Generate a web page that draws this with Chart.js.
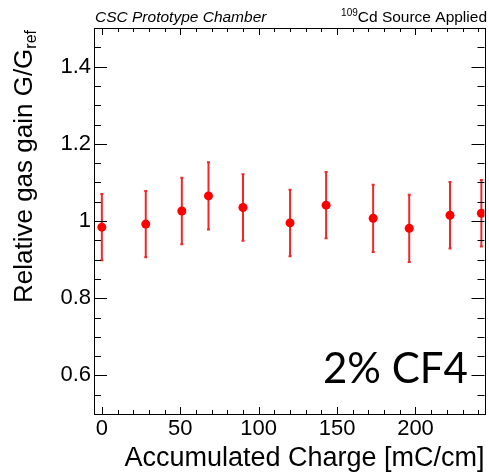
<!DOCTYPE html>
<html>
<head>
<meta charset="utf-8">
<script src="https://cdn.jsdelivr.net/npm/chart.js@4/dist/chart.umd.min.js"></script>
<style>
  html, body { margin: 0; padding: 0; background: #fff; }
  #wrap { width: 489px; height: 474px; position: relative; }
</style>
</head>
<body>
<div id="wrap"><canvas id="c"></canvas></div>
<script>
// ---- data ----
const charge = [0, 28, 51, 68, 90, 120, 143, 173, 196, 222, 242];
const gain   = [0.984, 0.992, 1.026, 1.065, 1.035, 0.995, 1.041, 1.007, 0.981, 1.015, 1.020];
const gainErr = [0.086, 0.086, 0.086, 0.087, 0.086, 0.086, 0.086, 0.087, 0.087, 0.086, 0.086];
const xTickLabels = [0, 50, 100, 150, 200];
const yTickLabels = [0.6, 0.8, 1.0, 1.2, 1.4];
const xMinorStep = 10;
const yMinorStep = 0.05;

const FONT = "'Liberation Sans', Arial, sans-serif";

const framePlugin = {
  id: 'frame',
  beforeDatasetsDraw(chart) {
    const ctx = chart.ctx;
    const xs = chart.scales.x, ys = chart.scales.y;
    ctx.save();
    ctx.strokeStyle = '#f02828';
    ctx.lineWidth = 2;
    for (let i = 0; i < charge.length; i++) {
      const px = xs.getPixelForValue(charge[i]);
      const y1 = ys.getPixelForValue(gain[i] - gainErr[i]);
      const y2 = ys.getPixelForValue(gain[i] + gainErr[i]);
      ctx.beginPath();
      ctx.moveTo(px, y1);
      ctx.lineTo(px, y2);
      ctx.stroke();
      ctx.beginPath();
      ctx.moveTo(px - 1.5, y1); ctx.lineTo(px + 1.5, y1);
      ctx.moveTo(px - 1.5, y2); ctx.lineTo(px + 1.5, y2);
      ctx.stroke();
    }
    ctx.restore();
  },
  afterDraw(chart) {
    const ctx = chart.ctx;
    const a = chart.chartArea;
    const xs = chart.scales.x, ys = chart.scales.y;
    ctx.save();
    ctx.strokeStyle = '#000';
    ctx.lineWidth = 1;
    ctx.strokeRect(Math.round(a.left) + 0.5, Math.round(a.top) + 0.5,
                   Math.round(a.right - a.left), Math.round(a.bottom - a.top));
    // x ticks
    ctx.beginPath();
    for (let v = 0; v <= xs.max + 1e-9; v += xMinorStep) {
      const px = Math.round(xs.getPixelForValue(v)) + 0.5;
      const major = xTickLabels.includes(v);
      const len = major ? 7 : 4;
      ctx.moveTo(px, a.bottom); ctx.lineTo(px, a.bottom - len);
      ctx.moveTo(px, a.top); ctx.lineTo(px, a.top + len);
    }
    // y ticks
    for (let k = 0; ; k++) {
      const v = 0.5 + k * yMinorStep;
      if (v > ys.max + 1e-9) break;
      const py = Math.round(ys.getPixelForValue(v)) + 0.5;
      const major = yTickLabels.some(t => Math.abs(t - v) < 1e-6);
      const len = major ? 13 : 7;
      ctx.moveTo(a.left, py); ctx.lineTo(a.left + len, py);
      ctx.moveTo(a.right, py); ctx.lineTo(a.right - len, py);
    }
    ctx.stroke();

    // header texts
    ctx.fillStyle = '#000';
    ctx.textBaseline = 'alphabetic';
    ctx.textAlign = 'left';
    ctx.font = "italic 15.5px " + FONT;
    ctx.fillText('CSC Prototype Chamber', a.left + 1, 22);
    ctx.textAlign = 'right';
    ctx.font = "15.5px " + FONT;
    const main = 'Cd Source Applied';
    ctx.fillText(main, 487, 22);
    const w = ctx.measureText(main).width;
    ctx.font = "10px " + FONT;
    ctx.fillText('109', 487 - w, 16);

    // annotation
    ctx.textAlign = 'left';
    ctx.font = "42px Lato, 'Open Sans', sans-serif";
    ctx.fillText('2% CF4', 323, 383);

    // x title
    ctx.textAlign = 'right';
    ctx.font = "27px " + FONT;
    ctx.fillText('Accumulated Charge [mC/cm]', a.right, 466);

    // y title (rotated)
    ctx.save();
    ctx.translate(32, a.top);
    ctx.rotate(-Math.PI / 2);
    ctx.font = "16px " + FONT;
    const sub = 'ref';
    const sw = ctx.measureText(sub).width;
    ctx.textAlign = 'right';
    ctx.fillText(sub, -2, 4);
    ctx.font = "26px " + FONT;
    ctx.fillText('Relative gas gain G/G', -2 - sw, 0);
    ctx.restore();

    ctx.restore();
  }
};

new Chart(document.getElementById('c'), {
  type: 'scatter',
  data: {
    datasets: [{
      data: charge.map((x, i) => ({ x: x, y: gain[i] })),
      backgroundColor: '#ff0000',
      borderWidth: 0,
      pointRadius: 4.5,
      pointHoverRadius: 4.5
    }]
  },
  options: {
    responsive: true,
    maintainAspectRatio: false,
    animation: false,
    events: [],
    layout: { padding: { left: 0, right: 4, top: 28, bottom: 0 } },
    plugins: { legend: { display: false }, tooltip: { enabled: false } },
    scales: {
      x: {
        type: 'linear',
        min: -5,
        max: 244,
        grid: { display: false, drawTicks: false },
        border: { display: false },
        afterBuildTicks(scale) { scale.ticks = xTickLabels.map(v => ({ value: v })); },
        afterFit(scale) { scale.height = 60; },
        ticks: {
          color: '#000',
          font: { family: FONT, size: 22 },
          padding: 2,
          maxRotation: 0,
          callback: v => String(v)
        }
      },
      y: {
        type: 'linear',
        min: 0.5,
        max: 1.5,
        grid: { display: false, drawTicks: false },
        border: { display: false },
        afterBuildTicks(scale) { scale.ticks = yTickLabels.map(v => ({ value: v })); },
        afterFit(scale) { scale.width = 94; },
        ticks: {
          color: '#000',
          font: { family: FONT, size: 22 },
          padding: 3,
          callback: v => (Math.abs(v - 1) < 1e-9 ? '1' : v.toFixed(1))
        }
      }
    }
  },
  plugins: [framePlugin]
});
</script>
</body>
</html>
